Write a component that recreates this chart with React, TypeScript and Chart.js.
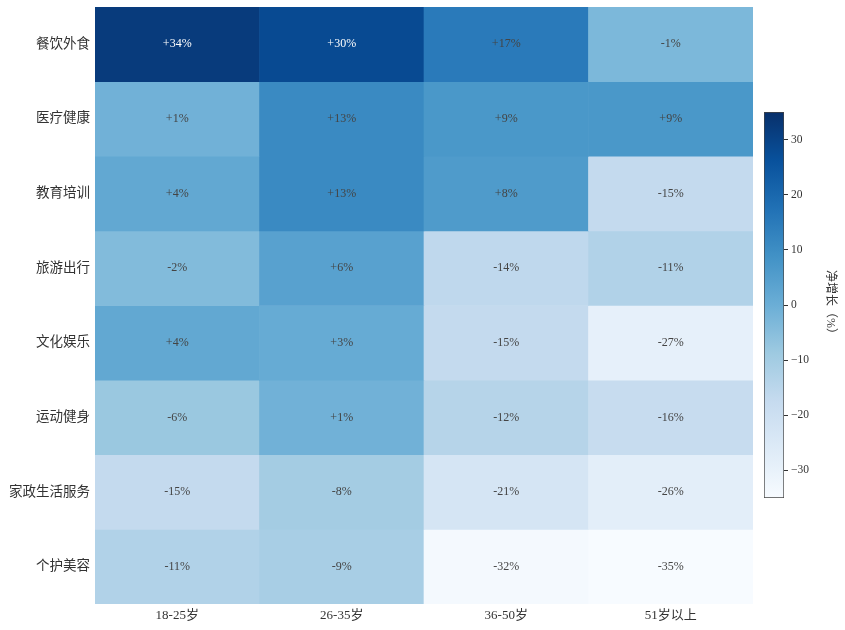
import { useEffect, useRef } from "react";
import { Chart, registerables, Plugin } from "chart.js";

Chart.register(...registerables);

const rowLabels = ["餐饮外食", "医疗健康", "教育培训", "旅游出行", "文化娱乐", "运动健身", "家政生活服务", "个护美容"];
const colLabels = ["18-25岁", "26-35岁", "36-50岁", "51岁以上"];

// net growth (%) per row, one entry per age column
const dining = [34, 30, 17, -1];
const health = [1, 13, 9, 9];
const education = [4, 13, 8, -15];
const travel = [-2, 6, -14, -11];
const culture = [4, 3, -15, -27];
const sports = [-6, 1, -12, -16];
const household = [-15, -8, -21, -26];
const beauty = [-11, -9, -32, -35];
const values = [dining, health, education, travel, culture, sports, household, beauty];

const vMin = -35;
const vMax = 35;
const barTicks = [-30, -20, -10, 0, 10, 20, 30];

// the cells in the picture read a touch lighter than a plain -35..35 mapping
const cellMin = -33;
const cellMax = 37;

const FONT = "'Liberation Serif', 'DejaVu Serif', 'Noto Sans CJK SC', serif";

// matplotlib "Blues"
const blues = ["#f7fbff", "#deebf7", "#c6dbef", "#9ecae1", "#6baed6", "#4292c6", "#2171b5", "#08519c", "#08306b"];

function hexToRgb(h: string) {
  const n = parseInt(h.slice(1), 16);
  return [(n >> 16) & 255, (n >> 8) & 255, n & 255];
}

function bluesColor(v: number) {
  let t = (v - cellMin) / (cellMax - cellMin);
  t = Math.max(0, Math.min(1, t));
  const pos = t * (blues.length - 1);
  const i = Math.min(Math.floor(pos), blues.length - 2);
  const f = pos - i;
  const a = hexToRgb(blues[i]);
  const b = hexToRgb(blues[i + 1]);
  const c = a.map((x, k) => Math.round(x + (b[k] - x) * f));
  return `rgb(${c[0]},${c[1]},${c[2]})`;
}

const cellText: Plugin = {
  id: "cellText",
  afterDatasetsDraw(chart) {
    const { ctx } = chart;
    const xs = chart.scales.x;
    const ys = chart.scales.y;
    ctx.save();
    ctx.font = `12px ${FONT}`;
    ctx.textAlign = "center";
    ctx.textBaseline = "middle";
    values.forEach((row, r) => {
      row.forEach((v, c) => {
        const x = xs.getPixelForValue(c);
        const y = ys.getPixelForValue(r);
        ctx.fillStyle = v > 25 ? "#ffffff" : "#444444";
        ctx.fillText(`${v > 0 ? "+" : ""}${v}%`, x, y);
      });
    });
    ctx.restore();
  },
};

function Heatmap() {
  const canvasRef = useRef<HTMLCanvasElement>(null);

  useEffect(() => {
    if (!canvasRef.current) return;
    const chart = new Chart(canvasRef.current, {
      type: "bar",
      data: {
        labels: colLabels,
        datasets: values.map((row, r) => ({
          label: rowLabels[r],
          data: row.map(() => [r - 0.5, r + 0.5] as [number, number]),
          backgroundColor: row.map((v) => bluesColor(v)),
          borderWidth: 0,
          barPercentage: 1,
          categoryPercentage: 1,
          grouped: false,
        })),
      },
      options: {
        animation: false,
        responsive: false,
        maintainAspectRatio: false,
        layout: { padding: { top: 7, right: 0, left: 0, bottom: 0 } },
        plugins: { legend: { display: false }, tooltip: { enabled: false } },
        scales: {
          x: {
            grid: { display: false, tickLength: 0 },
            border: { display: false },
            ticks: { color: "#333", font: { family: FONT, size: 13 }, padding: 4 },
            afterFit: (s: any) => {
              s.height = 26;
              s.paddingLeft = 0;
              s.paddingRight = 0;
            },
          },
          y: {
            type: "linear",
            reverse: true,
            min: -0.5,
            max: 7.5,
            grid: { display: false, tickLength: 0 },
            border: { display: false },
            afterBuildTicks: (s: any) => {
              s.ticks = rowLabels.map((_, i) => ({ value: i }));
            },
            ticks: {
              color: "#333",
              font: { family: FONT, size: 13.5 },
              padding: 5,
              autoSkip: false,
              callback: (v: any) => rowLabels[v as number] ?? "",
            },
            afterFit: (s: any) => {
              s.width = 95;
              s.paddingTop = 0;
              s.paddingBottom = 0;
            },
          },
        },
      },
      plugins: [cellText],
    });
    return () => chart.destroy();
  }, []);

  return <canvas ref={canvasRef} width={753} height={630} style={{ position: "absolute", left: 0, top: 0 }} />;
}

function ColorBar() {
  const canvasRef = useRef<HTMLCanvasElement>(null);

  useEffect(() => {
    if (!canvasRef.current) return;
    const chart = new Chart(canvasRef.current, {
      type: "bar",
      data: {
        labels: ["scale"],
        datasets: [
          {
            data: [[vMin, vMax] as [number, number]],
            backgroundColor: (ctx: any) => {
              const area = ctx.chart.chartArea;
              if (!area) return blues[4];
              const g = ctx.chart.ctx.createLinearGradient(0, area.bottom, 0, area.top);
              blues.forEach((c, i) => g.addColorStop(i / (blues.length - 1), c));
              return g;
            },
            borderColor: "#444",
            borderWidth: 1,
            borderSkipped: false,
            barPercentage: 1,
            categoryPercentage: 1,
          },
        ],
      },
      options: {
        animation: false,
        responsive: false,
        maintainAspectRatio: false,
        layout: { padding: { top: 112, bottom: 132, left: 24, right: 0 } },
        plugins: { legend: { display: false }, tooltip: { enabled: false } },
        scales: {
          x: { display: false },
          y: {
            position: "right",
            min: vMin,
            max: vMax,
            afterBuildTicks: (s: any) => {
              s.ticks = barTicks.map((v) => ({ value: v }));
            },
            grid: { drawOnChartArea: false, drawTicks: true, tickLength: 4, color: "#333" },
            border: { display: false },
            ticks: {
              color: "#333",
              font: { family: FONT, size: 11.5 },
              padding: 3,
              callback: (v: any) => (v < 0 ? "\u2212" + Math.abs(v) : String(v)),
            },
            title: {
              display: true,
              text: "净增长（%）",
              color: "#333",
              font: { family: FONT, size: 12 },
              padding: { top: 8, bottom: 0 },
            },
            afterFit: (s: any) => {
              s.width = 61;
            },
          },
        },
      },
    });
    return () => chart.destroy();
  }, []);

  return <canvas ref={canvasRef} width={105} height={630} style={{ position: "absolute", left: 740, top: 0 }} />;
}

export default function App() {
  return (
    <div style={{ position: "fixed", left: 0, top: 0, width: 845, height: 630, background: "#fff" }}>
      <Heatmap />
      <ColorBar />
    </div>
  );
}
